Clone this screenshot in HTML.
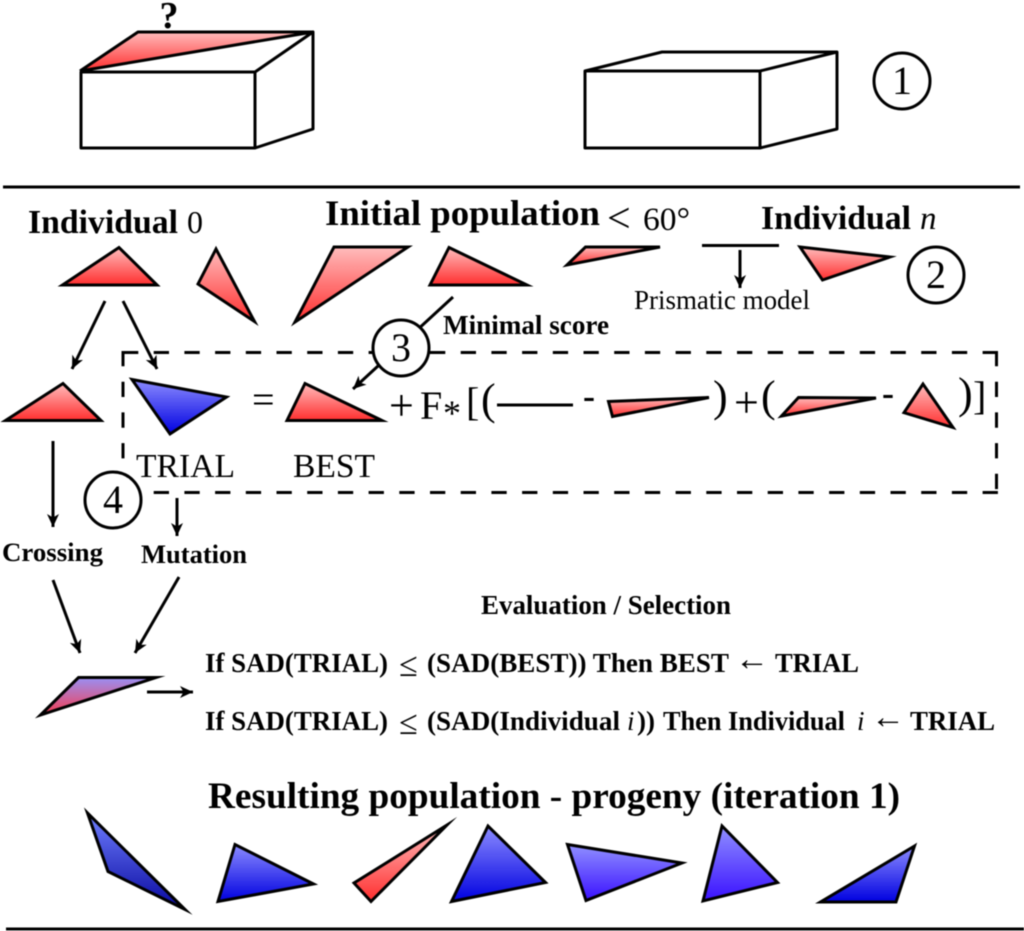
<!DOCTYPE html>
<html><head><meta charset="utf-8"><style>
html,body{margin:0;padding:0;background:#fff}
svg{display:block;filter:blur(.4px)}
text{font-family:"Liberation Serif",serif;fill:#000}
.b{font-weight:bold}
.i{font-style:italic}
.t{stroke:#000;stroke-width:3;stroke-linejoin:miter;stroke-miterlimit:10}
.r{fill:url(#red)}.u{fill:url(#blue)}
.l{stroke:#000;stroke-width:3;fill:none}
.a{stroke:#000;stroke-width:3;fill:none;marker-end:url(#ah)}
.n{font-size:40px;text-anchor:middle}
.c{fill:#fff;stroke:#000;stroke-width:3}
</style></head><body>
<svg width="1024" height="931" viewBox="0 0 1024 931" xmlns="http://www.w3.org/2000/svg">
<defs>
<linearGradient id="red" x1="0" y1="0" x2="0" y2="1"><stop offset="0" stop-color="#ffbcbc"/><stop offset="1" stop-color="#ff2e2e"/></linearGradient>
<linearGradient id="blue" x1="0" y1="0" x2="0" y2="1"><stop offset="0" stop-color="#8c8cff"/><stop offset="1" stop-color="#0000e0"/></linearGradient>
<linearGradient id="dark" x1="0" y1="0" x2="0" y2="1"><stop offset="0" stop-color="#7080ff"/><stop offset="1" stop-color="#0808a0"/></linearGradient>
<linearGradient id="vio" x1="0" y1="0" x2="0" y2="1"><stop offset="0" stop-color="#9090ff"/><stop offset="1" stop-color="#3a10ff"/></linearGradient>
<linearGradient id="mix" x1="0" y1="0" x2="0" y2="1"><stop offset="0" stop-color="#9a90f4"/><stop offset="1" stop-color="#f63c50"/></linearGradient>
<marker id="ah" markerUnits="userSpaceOnUse" markerWidth="16" markerHeight="14" refX="13" refY="6.5" orient="auto"><path d="M0,0.5 L13,6.5 L0,12.5 L3.5,6.5 Z" fill="#000"/></marker>
</defs>

<!-- top boxes -->
<path d="M80,71 L138,32 H313 Z" class="r"/>
<path class="l" stroke-linejoin="round" d="M81,72 H255 V148 H81 Z M255,72 L313,32 V129 L255,148 M80,71 L138,32 H313 L80,71"/>
<text x="169" y="28" class="b" font-size="38" text-anchor="middle">?</text>
<path class="l" stroke-linejoin="round" d="M585,71 H760 V148 H585 Z M760,71 L837,52 V129 L760,148 M585,71 L662,52 H837"/>
<circle cx="902" cy="81" r="28" class="c"/><text x="902" y="94" class="n">1</text>

<line x1="3" y1="187" x2="1020" y2="187" stroke="#000" stroke-width="3"/>

<!-- headers -->
<text x="28" y="233" class="b" font-size="33.7" textLength="150" lengthAdjust="spacingAndGlyphs">Individual</text>
<text x="187" y="233" font-size="32">0</text>
<text x="325" y="225" class="b" font-size="35.8" textLength="275" lengthAdjust="spacingAndGlyphs">Initial population</text>
<text x="607" y="232" font-size="42">&lt;</text>
<text x="643" y="230" font-size="33" textLength="47" lengthAdjust="spacingAndGlyphs">60°</text>
<text x="761" y="229" class="b" font-size="33.7" textLength="150" lengthAdjust="spacingAndGlyphs">Individual</text>
<text x="920" y="229" class="i" font-size="33">n</text>

<!-- population -->
<polygon class="t r" points="119,247.5 62.5,285 157,285"/>
<polygon class="t r" points="216,249 198,284 254.5,321.5"/>
<polygon class="t r" points="334,247 408,247 295,322"/>
<polygon class="t r" points="449,247.5 430,285 527,285"/>
<polygon class="t r" points="585.5,247 660,247 567,265"/>
<line x1="702" y1="245.5" x2="779" y2="245.5" stroke="#000" stroke-width="3"/>
<line class="a" x1="740" y1="250" x2="740" y2="288"/>
<polygon class="t r" points="800,247 890,257 822.5,280"/>
<text x="634" y="309" font-size="27" textLength="176" lengthAdjust="spacingAndGlyphs">Prismatic model</text>
<text x="443" y="334" class="b" font-size="27" textLength="166" lengthAdjust="spacingAndGlyphs">Minimal score</text>

<!-- dashed box -->
<g stroke="#000" stroke-width="3" fill="none" stroke-dasharray="15.3 15.4">
<line x1="123" y1="352.5" x2="998" y2="352.5"/>
<line x1="123" y1="492.5" x2="998" y2="492.5"/>
<line x1="123" y1="351" x2="123" y2="462"/>
<line x1="996.5" y1="351" x2="996.5" y2="494"/>
</g>

<!-- arrows -->
<line class="a" x1="105" y1="301" x2="72" y2="369"/>
<line class="a" x1="123" y1="301" x2="157" y2="369"/>
<line class="a" x1="453" y1="297" x2="353" y2="389"/>
<line class="a" x1="53" y1="441" x2="53" y2="527"/>
<line class="a" x1="177" y1="498" x2="177" y2="536"/>
<line class="a" x1="53" y1="580" x2="80" y2="653"/>
<line class="a" x1="179" y1="577" x2="135" y2="653"/>
<line class="a" x1="147" y1="692" x2="193" y2="692"/>

<circle cx="936" cy="275" r="28" class="c"/><text x="936" y="288" class="n">2</text>
<circle cx="401" cy="348" r="28" class="c"/><text x="401" y="361" class="n">3</text>
<circle cx="113" cy="500" r="28" class="c"/><text x="113" y="513" class="n">4</text>

<!-- equation -->
<polygon class="t r" points="63,383.5 5.5,420.5 101,420.5"/>
<polygon class="t u" points="132,379.5 226.5,397 170,434"/>
<text x="252" y="413" font-size="40">=</text>
<polygon class="t r" points="305,383.5 287,420.5 382,420.5"/>
<text x="389" y="420" font-size="44">+</text>
<text x="420" y="419" font-size="40">F</text>
<text x="443" y="425" font-size="36">*</text>
<text x="466" y="415" font-size="40">[</text>
<text x="481" y="414" font-size="44">(</text>
<line x1="497" y1="405" x2="573" y2="405" stroke="#000" stroke-width="3"/>
<text x="583" y="408" class="b" font-size="36">-</text>
<polygon class="t r" points="608.5,401.5 709,397.5 612.5,416.5"/>
<text x="713" y="411" font-size="44">)</text>
<text x="734" y="417" font-size="44">+</text>
<text x="761" y="411" font-size="44">(</text>
<polygon class="t r" points="798.5,397.5 876,398 781.5,416"/>
<text x="882" y="405" class="b" font-size="36">-</text>
<polygon class="t r" points="923,384 904,412.7 953,427.5"/>
<text x="958" y="408" font-size="44">)</text>
<text x="973" y="409" font-size="40">]</text>

<text x="136" y="477" font-size="33.5" textLength="99" lengthAdjust="spacingAndGlyphs">TRIAL</text>
<text x="293" y="477" font-size="33.5" textLength="82" lengthAdjust="spacingAndGlyphs">BEST</text>
<text x="2" y="561" class="b" font-size="26.7" textLength="101" lengthAdjust="spacingAndGlyphs">Crossing</text>
<text x="141" y="563" class="b" font-size="26.5" textLength="106" lengthAdjust="spacingAndGlyphs">Mutation</text>

<!-- selection -->
<polygon class="t" fill="url(#mix)" points="78.5,677.5 156,677.5 40.5,715"/>
<text x="481" y="614" class="b" font-size="27" textLength="250" lengthAdjust="spacingAndGlyphs">Evaluation / Selection</text>

<text x="205" y="672" class="b" font-size="27" textLength="183" lengthAdjust="spacingAndGlyphs">If SAD(TRIAL)</text>
<text x="399" y="676" font-size="34">≤</text>
<text x="427" y="672" class="b" font-size="27" textLength="302" lengthAdjust="spacingAndGlyphs">(SAD(BEST)) Then BEST</text>
<text x="735" y="670" font-size="34">←</text>
<text x="775" y="672" class="b" font-size="27" textLength="84" lengthAdjust="spacingAndGlyphs">TRIAL</text>

<text x="205" y="730" class="b" font-size="27" textLength="183" lengthAdjust="spacingAndGlyphs">If SAD(TRIAL)</text>
<text x="399" y="734" font-size="34">≤</text>
<text x="427" y="730" class="b" font-size="27" textLength="193" lengthAdjust="spacingAndGlyphs">(SAD(Individual</text>
<text x="627" y="730" class="i" font-size="27">i</text>
<text x="637" y="730" class="b" font-size="27" textLength="18" lengthAdjust="spacingAndGlyphs">))</text>
<text x="663" y="730" class="b" font-size="27" textLength="182" lengthAdjust="spacingAndGlyphs">Then Individual</text>
<text x="857" y="730" class="i" font-size="27">i</text>
<text x="871" y="728" font-size="34">←</text>
<text x="910" y="730" class="b" font-size="27" textLength="85" lengthAdjust="spacingAndGlyphs">TRIAL</text>

<text x="208" y="808" class="b" font-size="37.2" textLength="692" lengthAdjust="spacingAndGlyphs">Resulting population - progeny (iteration 1)</text>

<!-- progeny -->
<polygon class="t" fill="url(#dark)" points="87.5,813 108,871.5 185,909.5"/>
<polygon class="t u" points="235,844.5 218,901.5 313.5,884"/>
<polygon class="t r" points="447,825 354,883 371,901.5"/>
<polygon class="t u" points="488,826 451.5,901.5 545.5,882.5"/>
<polygon class="t" fill="url(#vio)" points="567.5,844.5 682,863 586,900.5"/>
<polygon class="t" fill="url(#vio)" points="722,826 703,901 777.5,882.5"/>
<polygon class="t u" points="914.5,846 820.5,902 896,902"/>

<line x1="6" y1="929" x2="1024" y2="929" stroke="#000" stroke-width="3"/>
</svg>
</body></html>
